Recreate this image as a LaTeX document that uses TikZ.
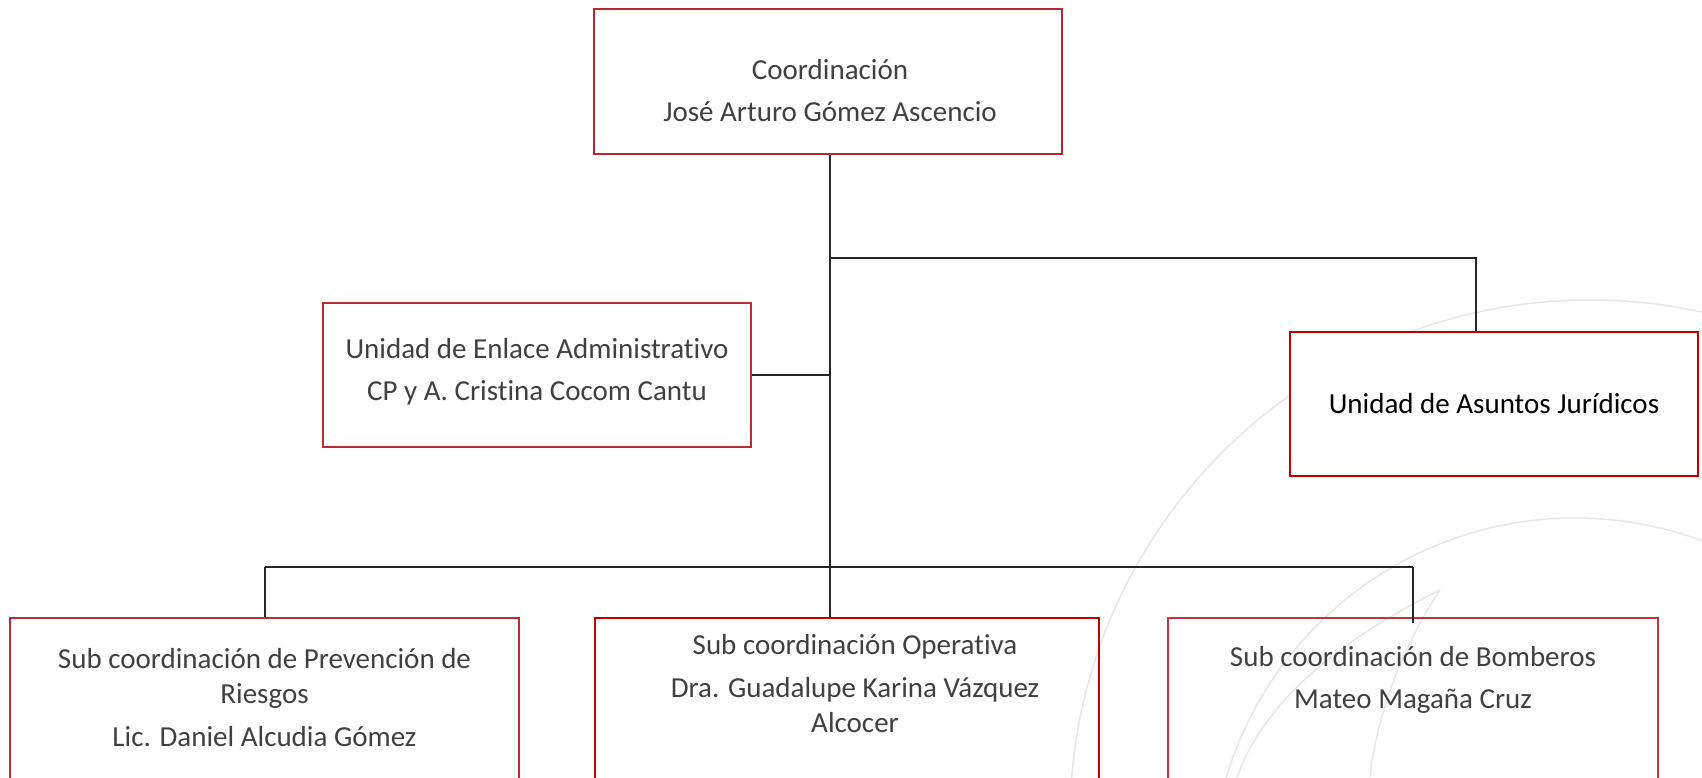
\documentclass[tikz,border=0pt]{standalone}
\usepackage{fontspec}
\setmainfont{Carlito}[Ligatures=NoCommon]
\usetikzlibrary{calc}
\definecolor{redA}{RGB}{190,42,50}
\definecolor{redB}{RGB}{192,0,0}
\definecolor{txtgray}{RGB}{64,64,64}
\definecolor{wm}{RGB}{234,230,230}
\begin{document}
\begin{tikzpicture}[x=1pt,y=-1pt,
  box/.style={draw=redA,line width=2.4pt,inner sep=0pt},
  boxB/.style={box,draw=redB,line width=2.8pt},
  conn/.style={draw=black!85,line width=1.4pt},
  txt/.style={anchor=base,inner sep=0pt,text=txtgray,font=\fontsize{29}{35}\selectfont},
  wmline/.style={draw=wm,line width=1.5pt}]
\clip (0,0) rectangle (1702,777);
\fill[white] (0,0) rectangle (1702,777);
% watermark
\draw[wmline] (1590,820) circle[radius=520pt];
\draw[wmline] (1575,882) circle[radius=364pt];
\draw[wmline] (1440,590) .. controls (1340,640) and (1265,700) .. (1237,777);
\draw[wmline] (1440,590) .. controls (1400,650) and (1376,720) .. (1370,777);
% boxes
\node[box,line width=2.8pt,draw={rgb,255:red,185;green,38;blue,46},minimum width=468pt,minimum height=145pt] (top) at (828,81.5) {};
\node[box,minimum width=428pt,minimum height=144pt] (enl) at (537,375) {};
\node[boxB,fill=white,minimum width=408pt,minimum height=144pt] (jur) at (1494,404) {};
\node[box,line width=2pt,minimum width=509pt,minimum height=182pt] (prev) at (264.5,709) {};
\node[boxB,minimum width=504pt,minimum height=182pt] (oper) at (847,709) {};
\node[box,line width=2pt,draw={rgb,255:red,196;green,50;blue,60},minimum width=490pt,minimum height=182pt] (bomb) at (1413,709) {};
% connectors
\coordinate (spine) at (830,0);
\coordinate (ja) at (830,258);
\coordinate (jb) at (1476,258);
\coordinate (bl) at (265,567);
\coordinate (br) at (1413,567);
\draw[conn] (top.south -| spine) -- (oper.north -| spine);
\draw[conn] (ja) -- (jb) -- (jb |- jur.north);
\draw[conn] (enl.east) -- (enl.east -| spine);
\draw[conn] (bl) -- (br);
\draw[conn] (bl) -- (bl |- prev.north);
\draw[conn] (br) -- ($(br |- bomb.north)+(0,6)$);
% texts
\node[txt] (t1) at (830,79) {Coordinación};
\node[txt] (t2) at (830,121) {José Arturo Gómez Ascencio};
\node[txt] (t3) at (537,358) {Unidad de Enlace Administrativo};
\node[txt] (t4) at (537,400) {CP y A. Cristina Cocom Cantu};
\node[txt,text=black] (t5) at (1494,413) {Unidad de Asuntos Jurídicos};
\node[txt] (t6) at (264.5,668) {Sub coordinación de Prevención de};
\node[txt] (t7) at (264.5,703) {Riesgos};
\node[txt] (t8) at (264.5,746) {Lic. Daniel Alcudia Gómez};
\node[txt] (t9) at (855,654) {Sub coordinación Operativa};
\node[txt] (t10) at (855,697) {Dra. Guadalupe Karina Vázquez};
\node[txt] (t11) at (855,732) {Alcocer};
\node[txt] (t12) at (1413,666) {Sub coordinación de Bomberos};
\node[txt] (t13) at (1413,708) {Mateo Magaña Cruz};
\end{tikzpicture}
\end{document}
